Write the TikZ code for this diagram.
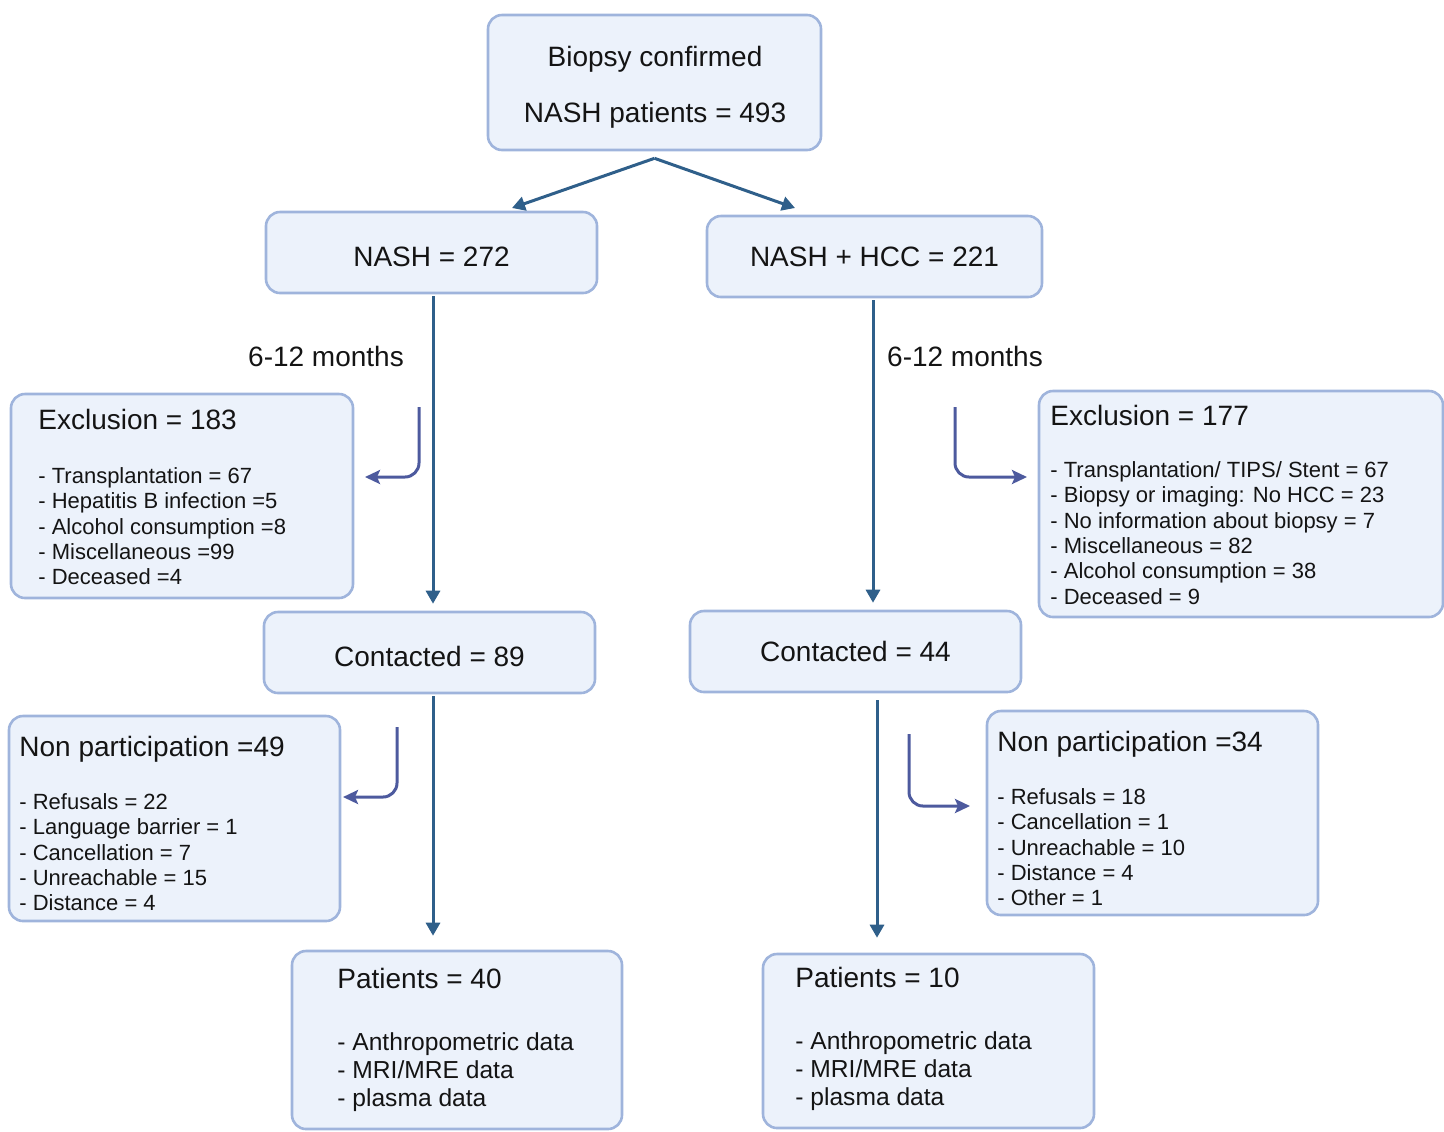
\documentclass[tikz,border=0pt]{standalone}
\usepackage{fontspec}
\setmainfont{Liberation Sans}
\usetikzlibrary{arrows.meta,calc}
\definecolor{boxfill}{HTML}{ECF2FB}
\definecolor{boxline}{HTML}{9FB4DC}
\definecolor{mainarr}{HTML}{2F5F8A}
\definecolor{hookarr}{HTML}{4D5A9E}
\definecolor{txt}{HTML}{141414}
\begin{document}
\begin{tikzpicture}[x=0.5pt,y=-0.5pt,
 box/.style={draw=boxline, fill=boxfill, line width=1.3pt, rounded corners=7pt, inner sep=0pt, text=txt, font=\fontsize{14}{16}\selectfont},
 low/.style={text height=14pt, text depth=0pt},
 ttl/.style={anchor=base west, inner sep=0pt, text=txt, font=\fontsize{14}{16}\selectfont},
 lst/.style={anchor=north west, inner sep=0pt, align=left, text=txt, font=\fontsize{11}{12.7}\selectfont},
 lstbig/.style={lst, font=\fontsize{12.3}{14}\selectfont},
 mainline/.style={draw=mainarr, line width=1.5pt, -{Triangle[length=6.5pt,width=7pt]}},
 hook/.style={draw=hookarr, line width=1.5pt, rounded corners=7pt, -{Stealth[length=7.5pt,width=7pt,inset=1.5pt]}},
 lbl/.style={inner sep=0pt, text=txt, font=\fontsize{14}{16}\selectfont}]
\useasboundingbox (0,0) rectangle (1444,1131);

% boxes
\node[box, minimum width=166.5pt, minimum height=67.5pt] (top) at (654.5,82.5) {};
\node[lbl, align=center, font=\fontsize{14}{28}\selectfont] (topt) at (655,87.5) {Biopsy confirmed\\NASH patients = 493};
\node[box, low, minimum width=165.5pt, minimum height=40.5pt] (nash) at (431.5,252.5) {NASH = 272};
\node[box, minimum width=167.5pt, minimum height=40.5pt] (hcc) at (874.5,256.5) {NASH + HCC = 221};
\node[box, minimum width=171pt, minimum height=102pt] (ex1) at (182,496) {};
\node[box, minimum width=202pt, minimum height=113pt] (ex2) at (1241,504) {};
\node[box, low, minimum width=165.5pt, minimum height=40.5pt] (c1) at (429.5,652.5) {Contacted = 89};
\node[box, minimum width=165.5pt, minimum height=40.5pt] (c2) at (855.5,651.5) {Contacted = 44};
\node[box, minimum width=165.5pt, minimum height=102.5pt] (n1) at (174.5,818.5) {};
\node[box, minimum width=165.5pt, minimum height=102pt] (n2) at (1152.5,813) {};
\node[box, minimum width=165pt, minimum height=89pt] (p1) at (457,1040) {};
\node[box, minimum width=165.5pt, minimum height=87pt] (p2) at (928.5,1041) {};

% box texts
\node[ttl] (ex1t) at (38,429) {Exclusion = 183};
\node[lst] (ex1l) at (38,467) {- Transplantation = 67\\- Hepatitis B infection =5\\- Alcohol consumption =8\\- Miscellaneous =99\\- Deceased =4};
\node[ttl] (ex2t) at (1050,425) {Exclusion = 177};
\node[lst] (ex2l) at (1050,461) {- Transplantation/ TIPS/ Stent = 67\\- Biopsy or imaging: No HCC = 23\\- No information about biopsy = 7\\- Miscellaneous = 82\\- Alcohol consumption = 38\\- Deceased = 9};
\node[ttl] (n1t) at (19,756) {Non participation =49};
\node[lst] (n1l) at (19,793) {- Refusals = 22\\- Language barrier = 1\\- Cancellation = 7\\- Unreachable = 15\\- Distance = 4};
\node[ttl] (n2t) at (997,751) {Non participation =34};
\node[lst] (n2l) at (997,788) {- Refusals = 18\\- Cancellation = 1\\- Unreachable = 10\\- Distance = 4\\- Other = 1};
\node[ttl] (p1t) at (337,988) {Patients = 40};
\node[lstbig] (p1l) at (337,1032) {- Anthropometric data\\- MRI/MRE data\\- plasma data};
\node[ttl] (p2t) at (795,987) {Patients = 10};
\node[lstbig] (p2l) at (795,1031) {- Anthropometric data\\- MRI/MRE data\\- plasma data};

% labels
\node[lbl] (m1) at (326,356) {6-12 months};
\node[lbl] (m2) at (965,356) {6-12 months};

% main connectors
\coordinate (tipL) at (512,208);
\coordinate (tipR) at (795,208);
\draw[mainline] ([yshift=-3.5pt]top.south) -- (tipL);
\draw[mainline] ([yshift=-3.5pt]top.south) -- (tipR);
\coordinate (xl) at (433,0);
\coordinate (xr) at (873,0);
\coordinate (xr2) at (877,0);
\draw[mainline, shorten <=1pt, shorten >=3.5pt] (nash.south -| xl) -- (c1.north -| xl);
\draw[mainline, shorten <=1pt, shorten >=3.5pt] (hcc.south -| xr) -- (c2.north -| xr);
\draw[mainline, shorten <=1pt, shorten >=7pt] (c1.south -| xl) -- (p1.north -| xl);
\draw[mainline, shorten <=3.5pt, shorten >=7.5pt] (c2.south -| xr2) -- (p2.north -| xr2);

% hook arrows
\coordinate (h1s) at (419,407); \coordinate (h1e) at (365,477);
\coordinate (h2s) at (955,407); \coordinate (h2e) at (1027,477);
\coordinate (h3s) at (397,727); \coordinate (h3e) at (343,797);
\coordinate (h4s) at (909,734); \coordinate (h4e) at (970,806);
\draw[hook] (h1s) |- (h1e);
\draw[hook] (h2s) |- (h2e);
\draw[hook] (h3s) |- (h3e);
\draw[hook] (h4s) |- (h4e);
\end{tikzpicture}
\end{document}
